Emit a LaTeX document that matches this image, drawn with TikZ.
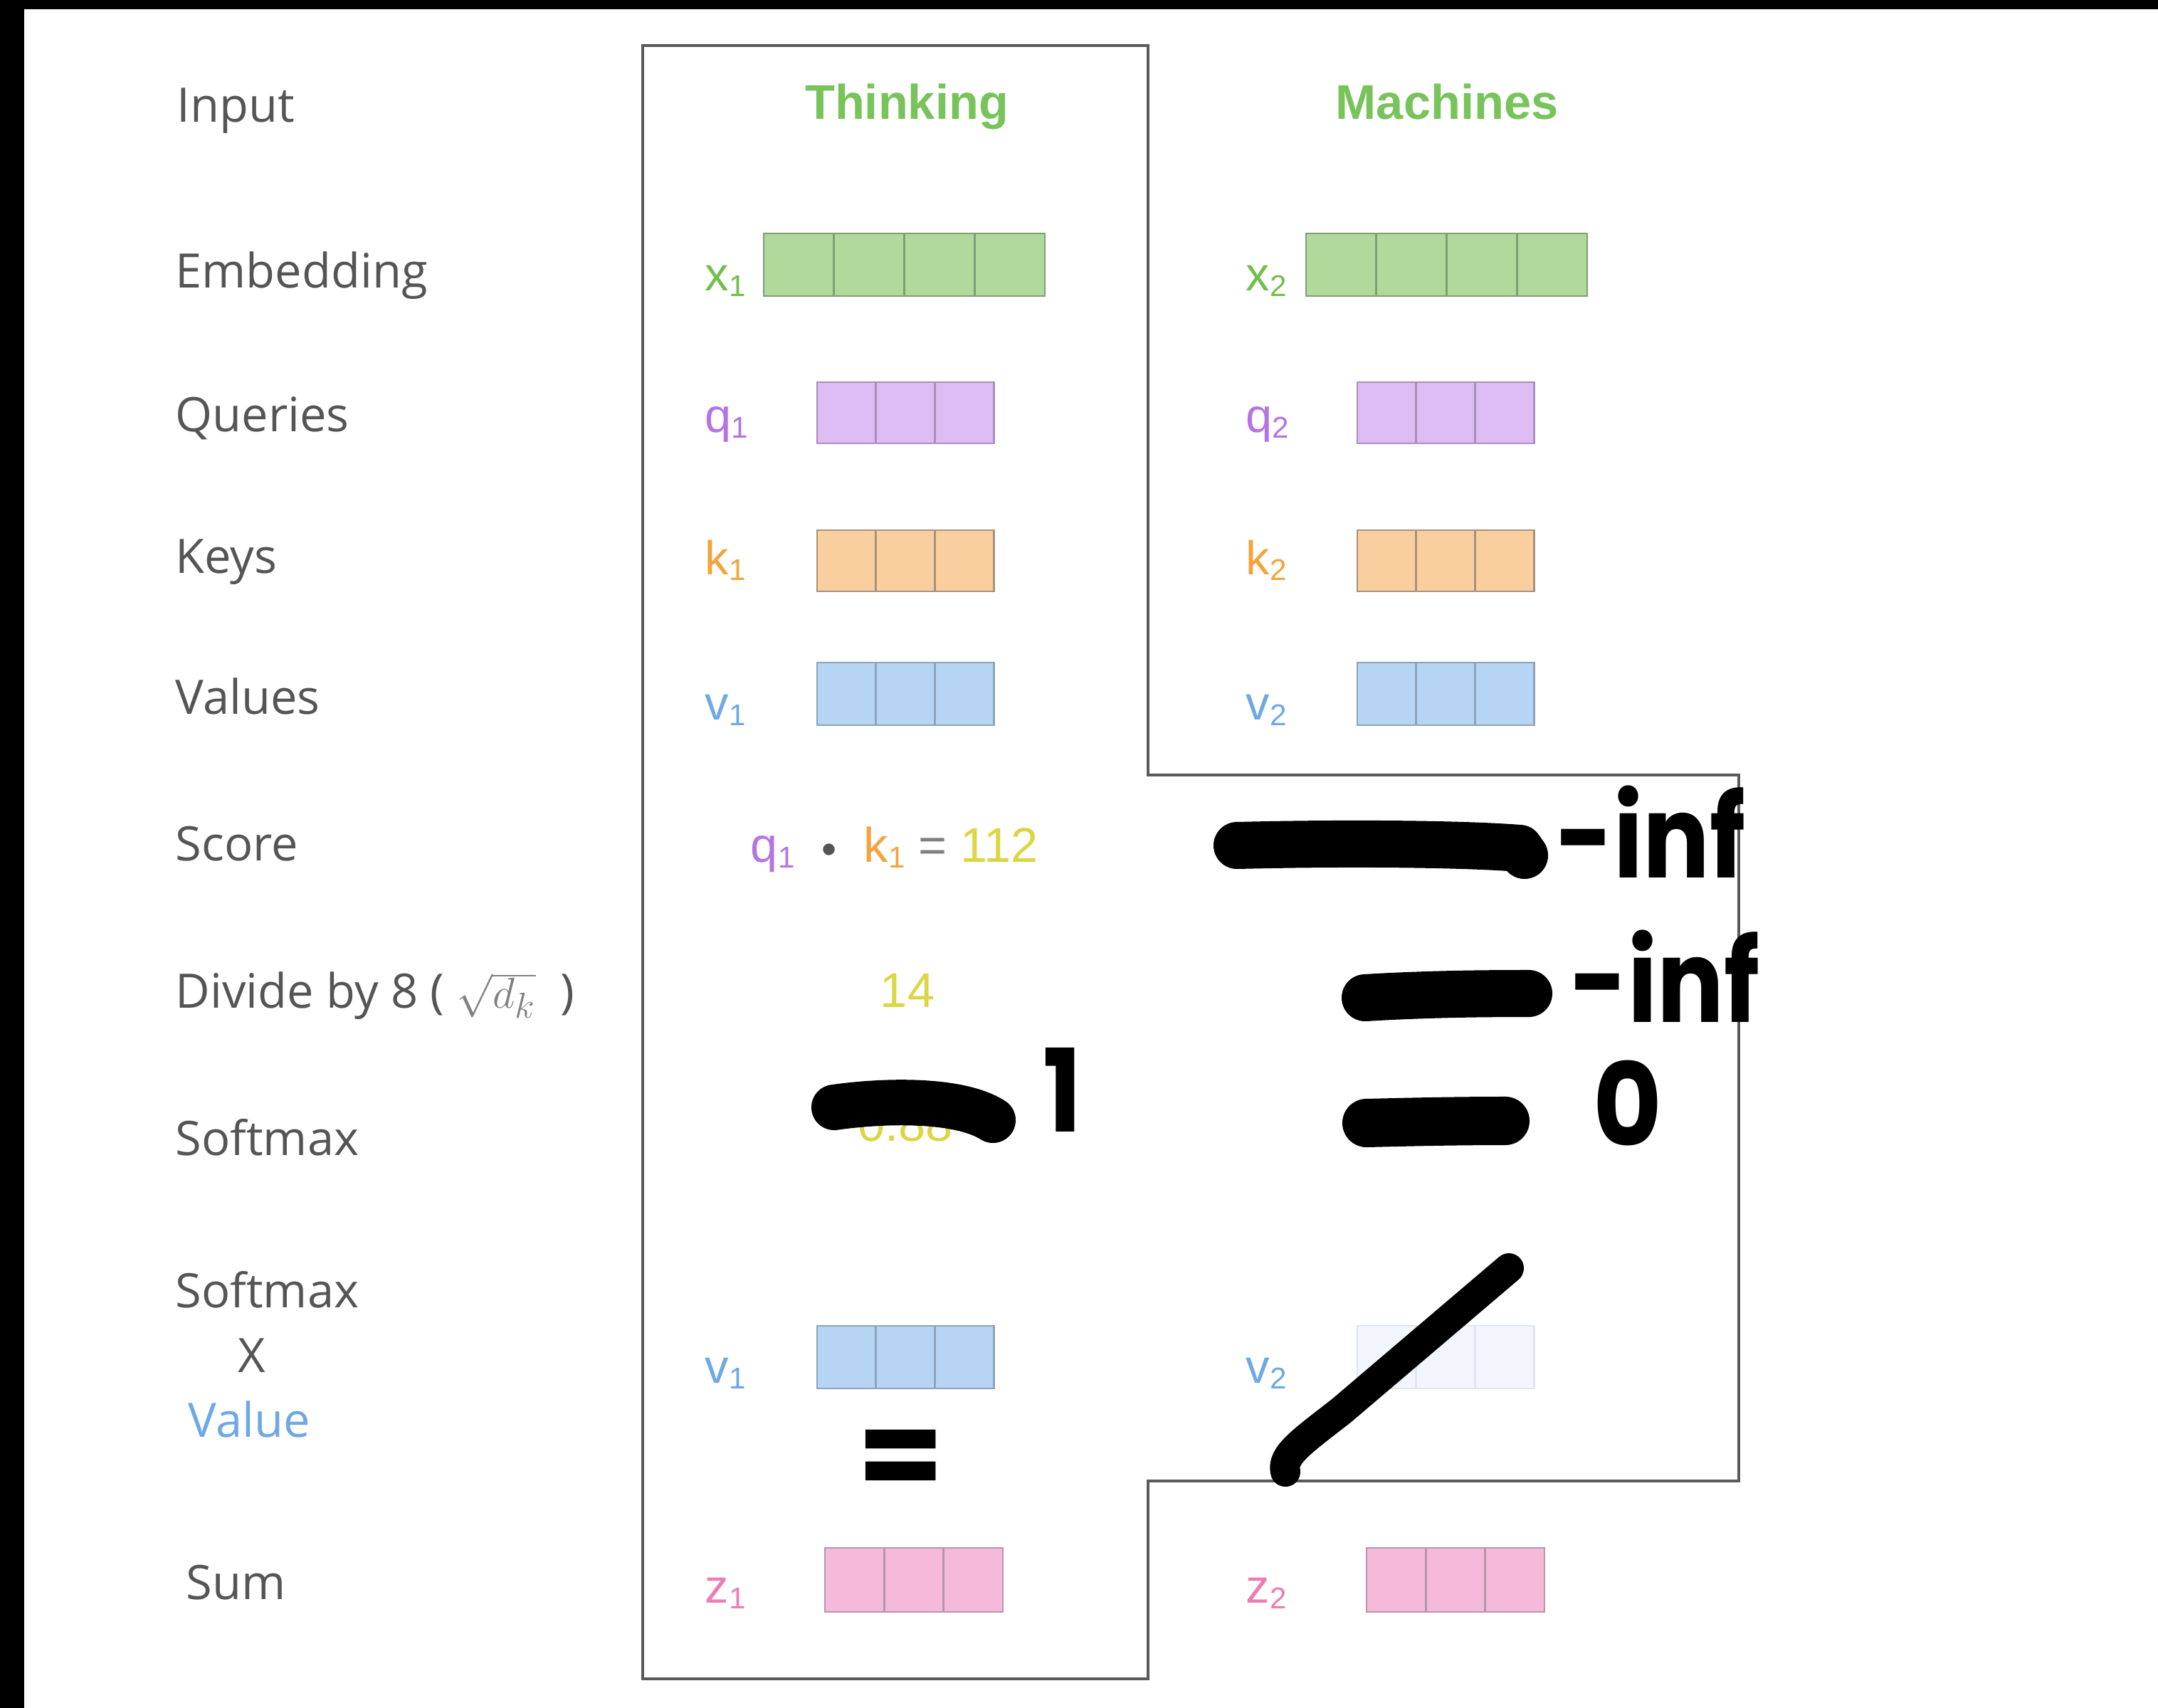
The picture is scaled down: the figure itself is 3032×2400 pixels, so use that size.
\documentclass[tikz,border=0pt]{standalone}
\usepackage{fontspec}
\setmainfont{Liberation Sans}
\newfontfamily\labfont{Open Sans}
\newfontfamily\markfont{Poppins}
\definecolor{labgray}{HTML}{555555}
\definecolor{gfill}{HTML}{B0D99B}\definecolor{gline}{HTML}{7F9F75}
\definecolor{pfill}{HTML}{DCBCF3}\definecolor{pline}{HTML}{A98FBA}
\definecolor{ofill}{HTML}{F9CF9F}\definecolor{oline}{HTML}{A8927C}
\definecolor{bfill}{HTML}{B6D5F5}\definecolor{bline}{HTML}{8FA3B8}
\definecolor{kfill}{HTML}{F5B9DA}\definecolor{kline}{HTML}{B597A8}
\definecolor{ffill}{HTML}{F1F6FC}\definecolor{fline}{HTML}{DFE6EE}
\definecolor{xcol}{HTML}{72BF4E}
\definecolor{qcol}{HTML}{B574E6}
\definecolor{kcol}{HTML}{F5A33B}
\definecolor{vcol}{HTML}{6FA8E6}
\definecolor{zcol}{HTML}{EC7EB6}
\definecolor{ycol}{HTML}{DCD645}
\definecolor{titlegreen}{HTML}{79C35B}
\definecolor{outl}{HTML}{5A5A5A}
\newcommand\mycells[8]{% name, left x, center y, n, cell w (cm), height (cm), fill, draw
  \foreach \i in {1,...,#4}{%
    \pgfmathsetmacro\cx{#2+(\i-0.5)*#5*100}%
    \node[cellbox, minimum width=#5cm, minimum height=#6cm, fill=#7, draw=#8] (#1c\i) at (\cx,#3) {};
  }%
}
\newcommand\sub[1]{\raisebox{-0.12em}{\fontsize{12}{14}\selectfont #1}}
\begin{document}
\begin{tikzpicture}[x=0.01cm,y=-0.01cm,
  rowlab/.style={anchor=base west, inner sep=0, text=labgray, font=\labfont\fontsize{19}{23}\selectfont},
  veclab/.style={anchor=base west, inner sep=0, font=\fontsize{19}{22}\selectfont},
  title/.style={anchor=base, inner sep=0, text=titlegreen, font=\bfseries\fontsize{19.5}{23}\selectfont},
  num/.style={anchor=base, inner sep=0, font=\fontsize{19.5}{23}\selectfont},
  cellbox/.style={rectangle, inner sep=0, line width=0.8pt},
  outline/.style={draw=outl, line width=1.1pt},
  scrib/.style={draw=black, line cap=round, line join=round},
  handmark/.style={anchor=base west, inner sep=0, text=black, font=\markfont\bfseries\fontsize{46}{50}\selectfont}
]
\useasboundingbox (0,0) rectangle (3032,2400);
\fill[white] (0,0) rectangle (3032,2400);
\fill[black] (0,0) rectangle (3032,13);
\fill[black] (0,0) rectangle (34,2400);

% outline
\draw[outline] (903,64) -- (1613,64) -- (1613,1089) -- (2443,1089) -- (2443,2081)
  -- (1613,2081) -- (1613,2359) -- (903,2359) -- cycle;

% row labels
\node[rowlab] (lInput) at (248,172) {Input};
\node[rowlab] (lEmb) at (246,405) {Embedding};
\node[rowlab] (lQ) at (246,606) {Queries};
\node[rowlab] (lK) at (246,805) {Keys};
\node[rowlab] (lV) at (246,1003) {Values};
\node[rowlab] (lScore) at (246,1209) {Score};
\node[rowlab] (lDiv) at (246,1416) {Divide by 8 ( \textcolor{gray}{$\sqrt{d_k}$} \ )};
\node[rowlab] (lSm) at (246,1623) {Softmax};
\node[rowlab] (lSm2) at (246,1837) {Softmax};
\node[rowlab, anchor=base] (lX) at (354,1928) {X};
\node[rowlab, text=vcol] (lVal) at (264,2019) {Value};
\node[rowlab] (lSum) at (261,2247) {Sum};

% titles
\node[title] (tThink) at (1274,168) {Thinking};
\node[title] (tMach) at (2033,168) {Machines};

% embeddings
\node[veclab, text=xcol] (x1) at (990,408) {x\sub{1}};
\mycells{xa}{1073}{372}{4}{0.9875}{0.88}{gfill}{gline}
\node[veclab, text=xcol] (x2) at (1750,408) {x\sub{2}};
\mycells{xb}{1835}{372}{4}{0.9875}{0.88}{gfill}{gline}

% queries
\node[veclab, text=qcol] (q1) at (990,607) {q\sub{1}};
\mycells{qa}{1148}{580}{3}{0.827}{0.86}{pfill}{pline}
\node[veclab, text=qcol] (q2) at (1750,607) {q\sub{2}};
\mycells{qb}{1907}{580}{3}{0.827}{0.86}{pfill}{pline}

% keys
\node[veclab, text=kcol] (k1) at (990,807) {k\sub{1}};
\mycells{ka}{1148}{788}{3}{0.827}{0.86}{ofill}{oline}
\node[veclab, text=kcol] (k2) at (1750,807) {k\sub{2}};
\mycells{kb}{1907}{788}{3}{0.827}{0.86}{ofill}{oline}

% values
\node[veclab, text=vcol] (v1) at (990,1011) {v\sub{1}};
\mycells{va}{1148}{975}{3}{0.827}{0.88}{bfill}{bline}
\node[veclab, text=vcol] (v2) at (1750,1011) {v\sub{2}};
\mycells{vb}{1907}{975}{3}{0.827}{0.88}{bfill}{bline}

% score
\node[num] (s1) at (1257,1211) {\textcolor{qcol}{q\sub{1}}\ \ \textcolor{labgray}{\raisebox{0.1em}{\fontsize{13}{14}\selectfont$\bullet$}}\ \ \textcolor{kcol}{k\sub{1}} \textcolor{gray}{=} \textcolor{ycol}{112}};
% divide
\node[num, text=ycol] (d1) at (1275,1415) {14};
\node[num, text=ycol] (d2) at (2035,1415) {12};
% softmax hidden value
\node[num, text=ycol] (sm1) at (1272,1603) {0.88};

% scribbles
\draw[scrib, line width=0.66cm] (1738,1188) .. controls (1900,1184) and (2060,1186) .. (2135,1192) -- (2142,1202);
\draw[scrib, line width=0.66cm] (1918,1402) .. controls (2000,1397) and (2080,1396) .. (2148,1396);
\draw[scrib, line width=0.64cm] (1172,1556) .. controls (1250,1545) and (1350,1545) .. (1395,1574);
\draw[scrib, line width=0.68cm] (1920,1578) .. controls (2000,1576) and (2060,1575) .. (2115,1575);

% marks
\node[handmark] (inf1) at (2186,1233) {\scalebox{0.86}[1]{-inf}};
\node[handmark] (inf2) at (2206,1436) {\scalebox{0.86}[1]{-inf}};
\node[handmark] (one) at (1465,1590) {\scalebox{0.9}[1]{1}};
\node[handmark] (zero) at (2238,1610) {\scalebox{0.92}[1]{0}};

% softmax x value
\node[veclab, text=vcol] (v1b) at (990,1943) {v\sub{1}};
\mycells{vc}{1148}{1907}{3}{0.827}{0.88}{bfill}{bline}
\node[veclab, text=vcol] (v2b) at (1750,1943) {v\sub{2}};
\mycells{vd}{1907}{1907}{3}{0.827}{0.88}{ffill}{fline}

% slash
\draw[scrib, line width=0.42cm] (2120,1782) -- (1885,1982) .. controls (1830,2025) and (1800,2045) .. (1806,2068);

% equals
\node[handmark, anchor=center, font=\markfont\bfseries\fontsize{50}{54}\selectfont] (eq) at (1266,2058) {=};

% sum
\node[veclab, text=zcol] (z1) at (990,2252) {z\sub{1}};
\mycells{za}{1159}{2220}{3}{0.833}{0.9}{kfill}{kline}
\node[veclab, text=zcol] (z2) at (1750,2252) {z\sub{2}};
\mycells{zb}{1920}{2220}{3}{0.833}{0.9}{kfill}{kline}
\end{tikzpicture}
\end{document}
